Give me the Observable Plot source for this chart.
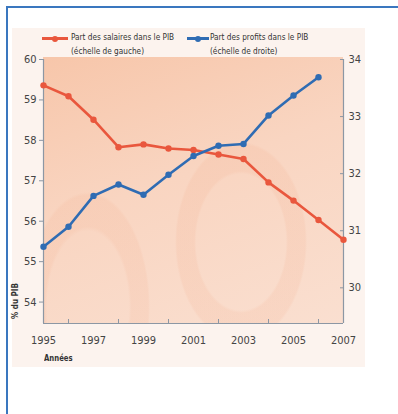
<!DOCTYPE html>
<html><head><meta charset="utf-8">
<script src="https://cdn.jsdelivr.net/npm/d3@7"></script>
<script src="https://cdn.jsdelivr.net/npm/@observablehq/plot@0.6"></script>
<style>
body{margin:0;background:#fff;font-family:"Liberation Sans Narrow","DejaVu Sans Condensed",sans-serif;}
#wrap{position:relative;width:398px;height:414px;overflow:hidden;}
#frame{position:absolute;left:6px;top:6px;width:600px;height:600px;border:2px solid #3A77BF;}
#panel{position:absolute;left:12px;top:28px;width:353px;height:339px;background:#FCF3EE;}
#plotbg{position:absolute;left:43px;top:57px;width:300px;height:266px;
 background:
  radial-gradient(ellipse 66px 100px at 198px 185px, rgba(255,255,255,0) 68%, rgba(238,150,110,0.11) 71%, rgba(238,150,110,0.11) 97%, rgba(255,255,255,0) 100%),
  radial-gradient(ellipse 62px 115px at 45px 250px, rgba(255,255,255,0) 66%, rgba(238,150,110,0.10) 70%, rgba(238,150,110,0.10) 97%, rgba(255,255,255,0) 100%),
  linear-gradient(160deg,#F7C6AA 0%,#F9D5C1 45%,#FADFD0 100%);}
#chart{position:absolute;left:0;top:0;}
.legtxt{position:absolute;font-size:9.5px;line-height:14px;color:#333;white-space:nowrap;transform:scaleX(0.86);transform-origin:0 0;}
.legline{position:absolute;height:3px;}
.legdot{position:absolute;width:6px;height:6px;border-radius:50%;}
#annees{position:absolute;left:44px;top:353px;font-size:8.5px;font-weight:bold;color:#333;transform:scaleX(0.9);transform-origin:0 0;}
#pib{position:absolute;left:15px;top:301px;font-size:8px;font-weight:bold;color:#333;transform:translate(-50%,-50%) rotate(-90deg);white-space:nowrap;}
</style></head>
<body>
<div id="wrap">
 <div id="frame"></div>
 <div id="panel"></div>
 <div id="plotbg"></div>
 <div id="chart"></div>
 <div class="legline" style="left:42px;top:37px;width:26px;background:#E9573D"></div>
 <div class="legdot" style="left:52px;top:35.5px;background:#E9573D"></div>
 <div class="legtxt" style="left:71px;top:30px">Part des salaires dans le PIB<br>(échelle de gauche)</div>
 <div class="legline" style="left:187px;top:37px;width:22px;background:#2F6CB3"></div>
 <div class="legdot" style="left:195px;top:35.5px;background:#2F6CB3"></div>
 <div class="legtxt" style="left:210px;top:30px">Part des profits dans le PIB<br>(échelle de droite)</div>
 <div id="annees">Années</div>
 <div id="pib">% du PIB</div>
</div>
<script>
const years = [1995,1996,1997,1998,1999,2000,2001,2002,2003,2004,2005,2006,2007];
const salaires = [59.36,59.09,58.51,57.83,57.90,57.80,57.76,57.65,57.54,56.96,56.51,56.03,55.54];
const profitYears = [1995,1996,1997,1998,1999,2000,2001,2002,2003,2004,2005,2006];
const profits = [30.72,31.07,31.61,31.81,31.63,31.98,32.31,32.49,32.52,33.02,33.37,33.69];
const leftTicks = [54,55,56,57,58,59,60];
const rightTicks = [30,31,32,33,34];
const labelYears = [1995,1997,1999,2001,2003,2005,2007];
const tickYears = [1996,1998,2000,2002,2004,2006];
const leftDomain = [53.47,60];
const rightDomain = [29.375,34];

const k = (leftDomain[1]-leftDomain[0])/(rightDomain[1]-rightDomain[0]);
const toLeft = p => leftDomain[0] + (p - rightDomain[0]) * k;
const fromLeft = v => rightDomain[0] + (v - leftDomain[0]) / k;

const sal = years.map((y,i)=>({year:y, v:salaires[i]}));
const pro = profitYears.map((y,i)=>({year:y, v:toLeft(profits[i])}));

const axisColor = "#8C97A4";
const textColor = "#444";
const red = "#E9573D", blue = "#2F6CB3";

const chart = Plot.plot({
  width:398, height:414,
  marginLeft:43, marginRight:55, marginTop:59, marginBottom:91,
  x:{domain:[years[0], years[years.length-1]], label:null},
  y:{domain:leftDomain, label:null},
  style:{background:"transparent", fontFamily:'"Liberation Sans Narrow","DejaVu Sans Condensed",sans-serif', fontSize:"11px", color:textColor},
  marks:[
    Plot.ruleX([years[0], years[years.length-1]], {stroke:axisColor, strokeWidth:1.2}),
    Plot.ruleY([leftDomain[0]], {stroke:axisColor, strokeWidth:1.2}),
    Plot.axisY(leftTicks, {anchor:"left", tickSize:4, tickPadding:3, stroke:axisColor, fill:textColor, label:null}),
    Plot.axisY(rightTicks.map(toLeft), {anchor:"right", tickSize:-4, tickPadding:9, stroke:axisColor, fill:textColor, label:null, tickFormat:d=>String(Math.round(fromLeft(d)))}),
    Plot.axisX(tickYears, {anchor:"bottom", tickSize:-4, tickPadding:0, stroke:axisColor, tickFormat:()=>"", label:null}),
    Plot.axisX(labelYears, {anchor:"bottom", tickSize:0, tickPadding:13, fill:textColor, tickFormat:d=>String(d), label:null}),
    Plot.line(sal, {x:"year", y:"v", stroke:red, strokeWidth:2.6}),
    Plot.dot(sal, {x:"year", y:"v", fill:red, r:3.2}),
    Plot.line(pro, {x:"year", y:"v", stroke:blue, strokeWidth:2.6}),
    Plot.dot(pro, {x:"year", y:"v", fill:blue, r:3.2})
  ]
});
document.getElementById("chart").appendChild(chart);
</script>
</body></html>
